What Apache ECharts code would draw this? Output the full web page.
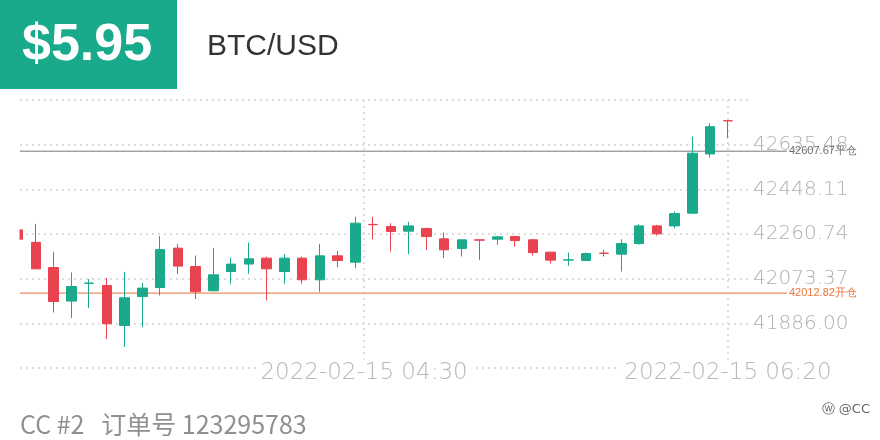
<!DOCTYPE html>
<html><head><meta charset="utf-8">
<script src="https://cdn.jsdelivr.net/npm/echarts@6/dist/echarts.min.js"></script>
<style>html,body{margin:0;padding:0;background:#fff}#c{width:880px;height:440px}</style>
</head><body><div id="c"></div>
<script>
// ---- data ----
const opens  = [42278,42225.7,42120.1,41979.3,42054,42044.7,41877.1,41998.6,42036.3,42201.4,42124.3,42022.5,42103.4,42134.6,42159.5,42103.4,42159.5,42068.6,42169.1,42142.7,42301.1,42291.9,42272.7,42283.5,42240.4,42199.7,42236.2,42239.1,42250,42236.2,42184.6,42151.5,42149.5,42180.5,42176.3,42220.7,42294.8,42294.8,42348.1,42596.5,42736];
const closes = [42239,42114.7,41977.7,42040.5,42055,41884.2,41993.2,42033.8,42195.5,42126,42018.3,42089.5,42134.4,42156.6,42114.7,42159.5,42068.6,42169.1,42149.5,42306.2,42299.5,42271,42294.8,42250,42194.3,42236.2,42235,42248.7,42233.2,42183,42151.1,42152.4,42178.8,42179.5,42220.7,42294.8,42261.3,42346.4,42599.5,42710.9,42735.5];
const lows   = [42235,42112,41931.6,41908.1,41950,41820.1,41786.6,41870.4,42002.8,42092.5,41987.7,42020,42051.8,42093.7,41981.9,42051.8,42051.8,42018.3,42121.8,42117.6,42239.1,42187.2,42176.3,42194.3,42159.5,42166.2,42152.4,42215.2,42208.1,42170.4,42136.9,42127.2,42148,42166.2,42103.4,42215.2,42254.2,42285.2,42346,42581,42662.3];
const highs  = [42285,42303.2,42184.6,42099.2,42071.5,42075.7,42102.1,42054.8,42252.9,42218.2,42170.4,42202.6,42162,42224.9,42166.2,42176.3,42166.2,42219.5,42190.1,42333.8,42332.6,42306.2,42311.6,42287.7,42266.8,42239.1,42237,42252.9,42254.2,42240.4,42185.5,42183,42183,42194.3,42239.1,42302,42299.1,42354.8,42669,42725.2,42736];

const priceMin = 41698.63;
const priceStep = 187.37;
const priceMax = 42822.85;
const timeLabels = ['2022-02-15 04:30', '2022-02-15 06:20'];
const timeRange = ['02:46:02', '06:26:39'];
const closePrice = 42607.67;
const openPrice = 42012.82;
const headerPrice = '$5.95';
const pairName = 'BTC/USD';
const footerText = 'CC #2   订单号 123295783';
const watermark = 'ⓦ @CC';

// ---- build ----
const idxMin = 0.11, idxMax = 41.24; // x extent in candle-index units
const toMin = s => { const p = s.split(':').map(Number); return p[0] * 60 + p[1] + (p[2] || 0) / 60; };
const timeValues = timeLabels.map(s => toMin(s.split(' ')[1]));
const candles = opens.map((o, i) => [i, o, closes[i], lows[i], highs[i]]);

const GREEN = '#1ba98b', RED = '#e8434f';
function levelSeries(price, name, lineColor, textColor, width) {
  return {
    type: 'line', xAxisIndex: 2, yAxisIndex: 1, z: 1, silent: true,
    symbol: 'none', data: [[0, price], [1, price]],
    lineStyle: { color: lineColor, width: width },
    endLabel: { show: true, distance: 2, color: textColor, fontSize: 11,
      fontFamily: 'Liberation Sans, Arial, sans-serif',
      formatter: () => price.toFixed(2) + name }
  };
}
const chart = echarts.init(document.getElementById('c'));
chart.setOption({
  animation: false,
  backgroundColor: '#fff',
  grid: [
    { left: 20, right: 130, top: 100, bottom: 72 },
    { left: 20, right: 93, top: 100, bottom: 72 }
  ],
  xAxis: [
    { type: 'value', gridIndex: 0, min: idxMin, max: idxMax, show: false, position: 'top' },
    { type: 'value', gridIndex: 0, position: 'bottom',
      min: toMin(timeRange[0]), max: toMin(timeRange[1]),
      axisLine: { show: false }, axisTick: { show: false, customValues: timeValues },
      splitLine: { show: true, lineStyle: { color: '#dcdcdc', type: [2, 4], width: 2 } },
      axisLabel: { customValues: timeValues, margin: 5, verticalAlign: 'middle',
        formatter: v => timeLabels[timeValues.indexOf(v)] || '',
        color: '#b8b8b8', fontSize: 23, fontFamily: 'DejaVu Sans', fontWeight: 200,
        backgroundColor: '#fff', padding: [2, 4] }
    },
    { type: 'value', gridIndex: 1, min: 0, max: 1, show: false }
  ],
  yAxis: [
    { type: 'value', gridIndex: 0, position: 'right', min: priceMin, max: priceMax, interval: priceStep,
      axisLine: { show: false }, axisTick: { show: false },
      splitLine: { show: true, lineStyle: { color: '#dcdcdc', type: [2, 4], width: 2 } },
      axisLabel: { margin: 3, showMinLabel: false, showMaxLabel: false,
        formatter: v => v.toFixed(2), color: '#b0b0b0', fontSize: 20,
        fontFamily: 'DejaVu Sans', fontWeight: 200, padding: [0, 0, 5, 0] } },
    { type: 'value', gridIndex: 1, min: priceMin, max: priceMax, show: false }
  ],
  series: [
    levelSeries(closePrice, '平仓', '#a3a3a3', '#6f6f6f', 1.5),
    levelSeries(openPrice, '开仓', '#f28a62', '#e8743e', 1.2),
    {
      type: 'candlestick', xAxisIndex: 0, yAxisIndex: 0, z: 3,
      encode: { x: 0, y: [1, 2, 3, 4] },
      data: candles, barWidth: 10, clip: true,
      itemStyle: { color: GREEN, color0: RED, borderColor: GREEN, borderColor0: RED, borderWidth: 1 }
    }
  ],
  graphic: [
    { type: 'rect', x: 0, y: 95, z: 100, shape: { width: 19.5, height: 280 }, style: { fill: '#fff' } },
    { type: 'rect', x: 0, y: 0, shape: { width: 177, height: 89 }, style: { fill: '#19a98b' } },
    { type: 'text', x: 22, y: 46, style: { text: headerPrice, fill: '#fff',
      font: 'bold 52px "Liberation Sans", Arial, sans-serif', verticalAlign: 'middle', align: 'left' } },
    { type: 'text', x: 207, y: 47, style: { text: pairName, fill: '#333',
      font: '30px "Liberation Sans", Arial, sans-serif', verticalAlign: 'middle', align: 'left' } },
    { type: 'text', x: 20, y: 424, style: { text: footerText, fill: '#8f8f8f',
      font: '25px "Noto Sans CJK SC", "Noto Sans", sans-serif', verticalAlign: 'middle', align: 'left' } },
    { type: 'text', x: 870, y: 410, style: { text: watermark, fill: '#666',
      font: '13px "DejaVu Sans", sans-serif', verticalAlign: 'middle', align: 'right' } }
  ]
});
</script></body></html>
